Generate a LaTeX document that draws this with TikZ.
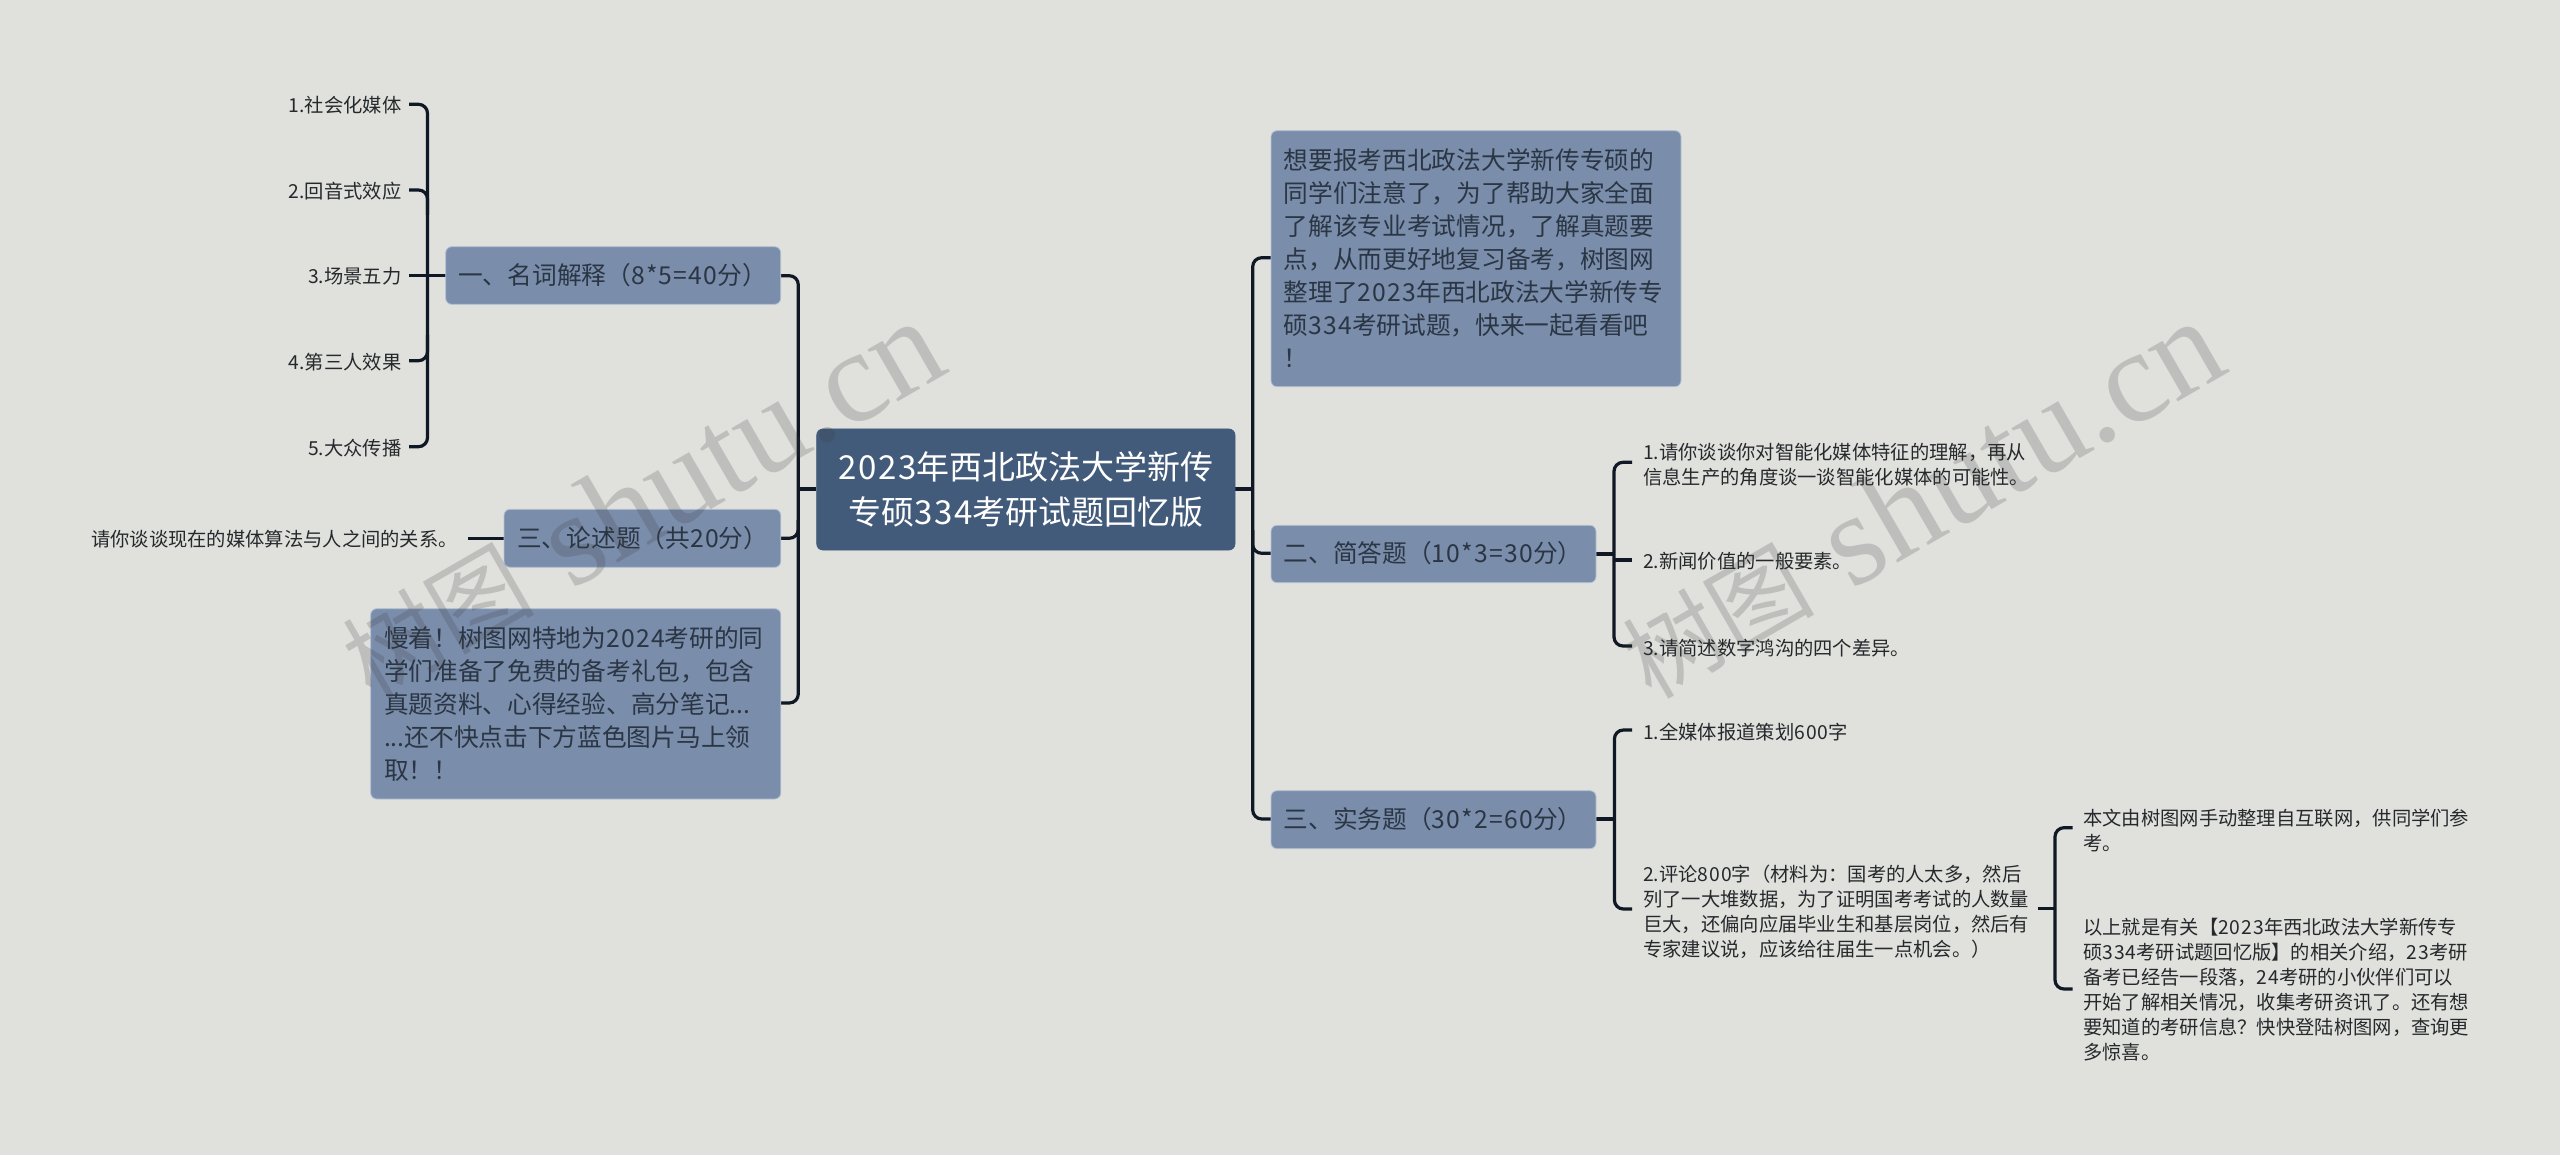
\documentclass[tikz,border=0pt]{standalone}
\usepackage{fontspec}
\setmainfont{Noto Sans CJK SC}
\newfontfamily\wmfont{Liberation Serif}
\newcommand\dg[1]{{\addfontfeature{LetterSpace=5}#1}}
\newcommand\wmtext{\raisebox{4pt}{\fontsize{96}{96}\selectfont 树图}\hspace{36pt}{\wmfont\fontsize{131}{131}\selectfont shutu.cn}}
\definecolor{bgc}{HTML}{E0E1DD}
\definecolor{rootc}{HTML}{435B7A}
\definecolor{boxc}{HTML}{7A8DAB}
\definecolor{boxe}{HTML}{B4C2D4}
\definecolor{linec}{HTML}{0F1824}
\definecolor{boxt}{HTML}{2B3644}
\definecolor{leaft}{HTML}{26292C}
\definecolor{wmc}{HTML}{3A3A3A}
\tikzset{
 x=1pt,y=-1pt,
 rootbox/.style={draw=rootc,fill=rootc,rounded corners=6pt,line width=0.6pt},
 topicbox/.style={draw=boxe,fill=boxc,rounded corners=6pt,line width=0.8pt},
 tl/.style={anchor=west,inner sep=0pt,text=boxt,font=\fontsize{24.7}{33}\selectfont},
 lf/.style={anchor=west,inner sep=0pt,text=leaft,font=\fontsize{19.3}{25}\selectfont},
 lfr/.style={lf,anchor=east},
 rt/.style={anchor=center,inner sep=0pt,text=white,font=\fontsize{33}{45}\selectfont,align=center},
 conn/.style={draw=linec,line width=3.2pt,rounded corners=9pt},
 wm/.style={text=wmc,opacity=0.2,inner sep=0pt,rotate=30,anchor=base west},
}
\begin{document}
\begin{tikzpicture}
\useasboundingbox (0,0) rectangle (2560,1155);
\fill[bgc] (0,0) rectangle (2560,1155);
% connectors
\draw[conn] (780.8,275.7) -- (798.3,275.7) -- (798.3,703) -- (780.8,703);
\draw[conn,rounded corners=0pt] (816,489) -- (798.3,489);
\draw[conn] (780.8,538.3) -- (798.3,538.3) -- (798.3,520);
\draw[conn] (1271,257.7) -- (1252.7,257.7) -- (1252.7,819) -- (1271,819);
\draw[conn,rounded corners=0pt] (1235,489) -- (1252.7,489);
\draw[conn] (1271,553.3) -- (1252.7,553.3) -- (1252.7,530);
% left 1
\draw[conn] (409,104.3) -- (427.5,104.3) -- (427.5,446.7) -- (409,446.7);
\draw[conn] (409,190) -- (427.5,190) -- (427.5,215);
\draw[conn] (409,360.7) -- (427.5,360.7) -- (427.5,335);
\draw[conn,rounded corners=0pt] (409,275.7) -- (446,275.7);
\draw[conn,rounded corners=0pt] (468,538.3) -- (504,538.3);
% right 2
\draw[conn] (1632,462.3) -- (1614,462.3) -- (1614,646) -- (1632,646);
\draw[conn,rounded corners=0pt] (1596,554) -- (1614,554);
\draw[conn,rounded corners=0pt] (1614,560) -- (1632,560);
% right 3
\draw[conn] (1632,730) -- (1614.4,730) -- (1614.4,909) -- (1632,909);
\draw[conn,rounded corners=0pt] (1596,819) -- (1614.4,819);
\draw[conn] (2072.5,827.7) -- (2055,827.7) -- (2055,989) -- (2072.5,989);
\draw[conn,rounded corners=0pt] (2037.5,908.3) -- (2055,908.3);
% boxes
\draw[rootbox] (816.7,429) rectangle (1235,550);
\node[rt] (root) at (1025.8,489) {\dg{2023}年西北政法大学新传\\专硕\dg{334}考研试题回忆版};
\draw[topicbox] (445.7,246.7) rectangle (780.7,304.3);
\node[tl] (a) at (458,275.5) {一、名词解释（\dg{8*5=40}分）};
\draw[topicbox] (504,509.3) rectangle (780.8,567.3);
\node[tl] (b) at (517,538) {三、论述题（共\dg{20}分）};
\draw[topicbox] (370.7,608.7) rectangle (780.8,799);
\node[tl,align=left] (c) at (383.8,704) {慢着！树图网特地为\dg{2024}考研的同\\学们准备了免费的备考礼包，包含\\真题资料、心得经验、高分笔记...\\...还不快点击下方蓝色图片马上领\\取！！};
\draw[topicbox] (1271,130.7) rectangle (1681,386.7);
\node[tl,align=left] (d) at (1283.5,258) {想要报考西北政法大学新传专硕的\\同学们注意了，为了帮助大家全面\\了解该专业考试情况，了解真题要\\点，从而更好地复习备考，树图网\\整理了\dg{2023}年西北政法大学新传专\\硕\dg{334}考研试题，快来一起看看吧\\！};
\draw[topicbox] (1271,525.3) rectangle (1596,582.7);
\node[tl] (e) at (1283.5,553.5) {二、简答题（\dg{10*3=30}分）};
\draw[topicbox] (1271,790.7) rectangle (1596,848.7);
\node[tl] (f) at (1283.5,819.5) {三、实务题（\dg{30*2=60}分）};
% leaves left
\node[lfr] (l1) at (401.5,105.5) {1.社会化媒体};
\node[lfr] (l2) at (401.5,191) {2.回音式效应};
\node[lfr] (l3) at (401.5,276.7) {3.场景五力};
\node[lfr] (l4) at (401.5,362) {4.第三人效果};
\node[lfr] (l5) at (401.5,447.7) {5.大众传播};
\node[lfr] (l6) at (458,538.8) {请你谈谈现在的媒体算法与人之间的关系。};
% leaves right
\node[lf,align=left] (r1) at (1643,464.5) {1.请你谈谈你对智能化媒体特征的理解，再从\\信息生产的角度谈一谈智能化媒体的可能性。};
\node[lf] (r2) at (1643,561.7) {2.新闻价值的一般要素。};
\node[lf] (r3) at (1643,647.7) {3.请简述数字鸿沟的四个差异。};
\node[lf] (r4) at (1643,732.3) {1.全媒体报道策划\dg{600}字};
\node[lf,align=left] (r5) at (1643,911.5) {2.评论\dg{800}字（材料为：国考的人太多，然后\\列了一大堆数据，为了证明国考考试的人数量\\巨大，还偏向应届毕业生和基层岗位，然后有\\专家建议说，应该给往届生一点机会。）};
\node[lf,align=left] (r6) at (2083,830.5) {本文由树图网手动整理自互联网，供同学们参\\考。};
\node[lf,align=left] (r7) at (2083,990) {以上就是有关【\dg{2023}年西北政法大学新传专\\硕\dg{334}考研试题回忆版】的相关介绍，\dg{23}考研\\备考已经告一段落，\dg{24}考研的小伙伴们可以\\开始了解相关情况，收集考研资讯了。还有想\\要知道的考研信息？快快登陆树图网，查询更\\多惊喜。};
% watermarks
\node[wm] (w1) at (373.5,704.5) {\wmtext};
\node[wm] (w2) at (1653.5,704.5) {\wmtext};
\end{tikzpicture}
\end{document}
